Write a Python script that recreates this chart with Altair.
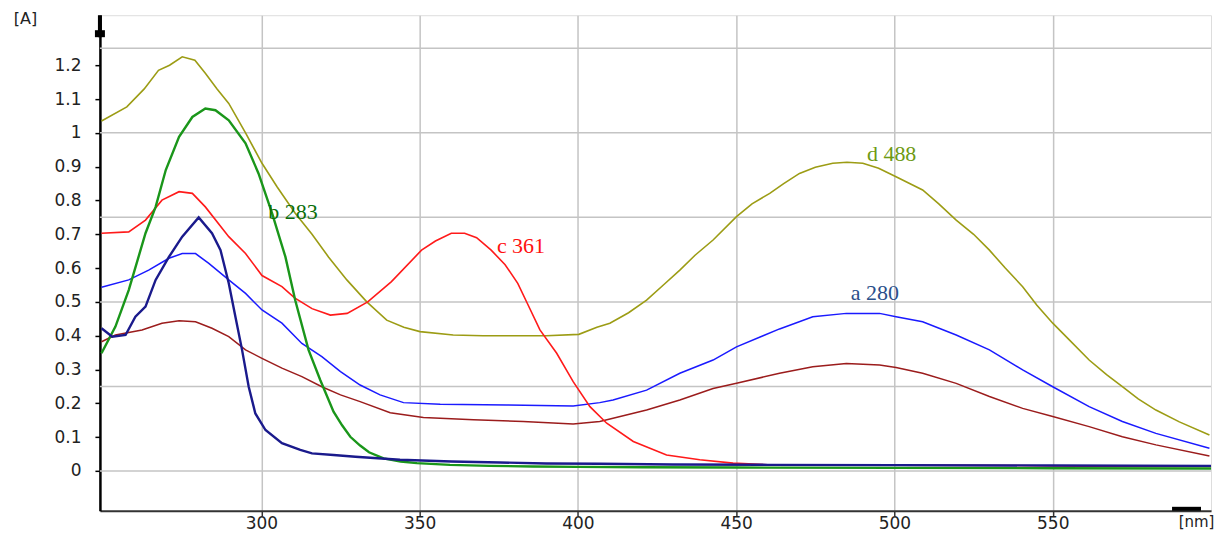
import altair as alt
import pandas as pd

# ---- data ----
wl_d = [249.5, 257.5, 263, 267.5, 271, 275, 279, 282.3, 286, 289.7, 295, 300.2, 305, 310.7, 316, 321.2, 327, 333.3,
        339.6, 345, 350.1, 360.6, 370, 380, 390, 400.3, 406, 410.1, 416, 421.7, 427, 432.2, 437, 442.7, 450.1, 455,
        460.6, 465, 470, 475, 480.5, 485, 490, 495, 500.5, 508.9, 514, 519.5, 525, 530, 535, 540.5, 545, 550, 555,
        561.5, 567, 572, 577, 582.6, 590, 599.5]
abs_d = [1.035, 1.077, 1.13, 1.185, 1.20, 1.225, 1.215, 1.176, 1.13, 1.087, 1.0, 0.910, 0.84, 0.762, 0.70, 0.633,
         0.565, 0.500, 0.446, 0.425, 0.412, 0.402, 0.400, 0.400, 0.400, 0.404, 0.425, 0.437, 0.468, 0.505, 0.55,
         0.594, 0.638, 0.683, 0.752, 0.79, 0.821, 0.85, 0.880, 0.898, 0.910, 0.913, 0.910, 0.895, 0.870, 0.831,
         0.79, 0.742, 0.70, 0.653, 0.60, 0.545, 0.49, 0.437, 0.39, 0.328, 0.285, 0.249, 0.213, 0.180, 0.145, 0.106]

wl_b = [249.5, 253.9, 258.1, 263.4, 266.6, 269.8, 274, 278.2, 282.3, 285.5, 289.7, 295, 299.1, 303.4, 307.6, 310.7,
        314.9, 318.6, 322.8, 325.5, 328.1, 331.2, 334, 338.6, 344, 349.1, 359.6, 372, 385.8, 400, 420, 450, 500,
        550, 600]
abs_b = [0.348, 0.427, 0.535, 0.703, 0.781, 0.890, 0.988, 1.047, 1.072, 1.067, 1.037, 0.969, 0.880, 0.762, 0.633,
         0.505, 0.358, 0.269, 0.175, 0.135, 0.101, 0.075, 0.055, 0.037, 0.028, 0.023, 0.018, 0.015, 0.013, 0.012,
         0.011, 0.010, 0.009, 0.008, 0.007]

wl_n = [249.5, 252.9, 257.1, 260.2, 263.4, 266.6, 270.8, 275, 280.2, 284.4, 287.1, 289.7, 291.8, 293.9, 296, 298.1,
        301.3, 306.5, 312.3, 316, 322.8, 329.7, 343.8, 360, 375.4, 390, 406.9, 430, 460, 500, 550, 600]
abs_n = [0.422, 0.397, 0.402, 0.456, 0.486, 0.565, 0.633, 0.693, 0.750, 0.703, 0.653, 0.555, 0.456, 0.358, 0.249,
         0.170, 0.121, 0.082, 0.062, 0.052, 0.047, 0.042, 0.033, 0.028, 0.025, 0.022, 0.021, 0.019, 0.018, 0.017,
         0.016, 0.015]

wl_a = [249.5, 258.1, 264.4, 270.8, 275, 279.2, 283.4, 289.7, 295, 300.2, 306.5, 312.8, 319.1, 325, 331.2, 337.5,
        344.9, 356.5, 377.5, 398.5, 406.9, 411.1, 421.7, 432.2, 442.7, 450.1, 458.5, 463.7, 474.2, 484.8, 495.3,
        500.5, 508.9, 519.5, 530, 540.5, 550, 561.5, 572, 582.6, 599.5]
abs_a = [0.543, 0.565, 0.594, 0.629, 0.643, 0.643, 0.614, 0.565, 0.525, 0.476, 0.437, 0.377, 0.338, 0.294, 0.254,
         0.225, 0.202, 0.197, 0.195, 0.192, 0.202, 0.210, 0.239, 0.289, 0.328, 0.367, 0.400, 0.420, 0.456, 0.466,
         0.466, 0.456, 0.441, 0.402, 0.358, 0.299, 0.249, 0.190, 0.146, 0.111, 0.067]

wl_m = [249.5, 253.9, 262.3, 268.6, 274, 279.2, 284.4, 289.7, 295, 300.2, 306.5, 312.8, 319.1, 325, 331.2, 340.7,
        351.2, 367, 382.7, 398.5, 406.9, 411.1, 421.7, 432.2, 442.7, 450.1, 463.7, 474.2, 484.8, 495.3, 500.5,
        508.9, 519.5, 530, 540.5, 550, 561.5, 572, 582.6, 599.5]
abs_m = [0.382, 0.402, 0.417, 0.437, 0.444, 0.441, 0.422, 0.397, 0.358, 0.333, 0.304, 0.279, 0.249, 0.225, 0.205,
         0.172, 0.158, 0.151, 0.146, 0.139, 0.146, 0.156, 0.180, 0.210, 0.244, 0.259, 0.289, 0.308, 0.318, 0.313,
         0.306, 0.289, 0.259, 0.220, 0.185, 0.161, 0.131, 0.101, 0.077, 0.044]

wl_c = [249.5, 258.1, 263.4, 268.6, 274, 278.2, 282.3, 289.7, 295, 300.2, 306.5, 310.5, 316, 321.8, 327.1, 333.6,
        341.1, 350.6, 355, 360, 364.2, 368, 372.6, 377, 381, 384, 388, 393.3, 398.5, 403.8, 409.1, 417.5, 428,
        438.5, 449, 460, 500, 538, 560, 600]
abs_c = [0.703, 0.707, 0.742, 0.801, 0.826, 0.821, 0.781, 0.693, 0.643, 0.578, 0.545, 0.512, 0.48, 0.461, 0.466,
         0.500, 0.560, 0.653, 0.68, 0.703, 0.703, 0.69, 0.653, 0.61, 0.555, 0.496, 0.417, 0.348, 0.264, 0.190,
         0.141, 0.087, 0.047, 0.033, 0.023, 0.018, 0.017, 0.016, 0.014, 0.013]

grid_y = [0, 0.25, 0.5, 0.75, 1.0, 1.25]
y_ticks = [0, 0.1, 0.2, 0.3, 0.4, 0.5, 0.6, 0.7, 0.8, 0.9, 1.0, 1.1, 1.2]
x_ticks = [300, 350, 400, 450, 500, 550]

labels = ["b 283", "c 361", "a 280", "d 488"]
label_x = [302.2, 374.4, 486.2, 491.3]
label_y = [0.766, 0.665, 0.526, 0.937]
label_colors = ["#0b6e0b", "#ff1010", "#2a4f8a", "#6e9a12"]

# ---- chart ----
xscale = alt.Scale(domain=[249, 600], nice=False, zero=False)
yscale = alt.Scale(domain=[-0.118, 1.348], nice=False, zero=False)

FONT = "DejaVu Sans"
xaxis = alt.Axis(values=x_ticks, grid=True, gridColor="#c4c4c4", gridWidth=1.5,
                 domainColor="#333333", domainWidth=2, tickColor="#333333", tickSize=5, tickWidth=1.5,
                 labelFont=FONT, labelFontSize=17, labelColor="#222222", labelPadding=0,
                 title="[nm]", titleFont=FONT, titleFontSize=15, titleFontWeight="normal", titleColor="#222222",
                 titleX=1097, titleY=11, titleAlign="center", titleBaseline="middle")
yaxis = alt.Axis(values=y_ticks, grid=False, format=".1~f",
                 domainColor="#000000", domainWidth=2.5, tickColor="#000000", tickSize=5, tickWidth=1.5,
                 labelFont=FONT, labelFontSize=17, labelColor="#222222", labelPadding=14,
                 title="[A]", titleFont=FONT, titleFontSize=16, titleFontWeight="normal", titleColor="#222222",
                 titleAngle=0, titleX=-75, titleY=3, titleAlign="center", titleBaseline="middle")

grid = alt.Chart(pd.DataFrame({"g": grid_y})).mark_rule(color="#c4c4c4", strokeWidth=1.5).encode(
    y=alt.Y("g:Q", scale=yscale, axis=yaxis)
)

series = [
    (wl_d, abs_d, "#9c9c14", 1.6),
    (wl_m, abs_m, "#9b1c1c", 1.5),
    (wl_a, abs_a, "#1a1aff", 1.5),
    (wl_c, abs_c, "#ff1a1a", 1.6),
    (wl_b, abs_b, "#1a961a", 2.4),
    (wl_n, abs_n, "#1a1a8c", 2.4),
]
layers = [grid]
for wl, ab, col, sw in series:
    df = pd.DataFrame({"nm": wl, "A": ab})
    layers.append(
        alt.Chart(df).mark_line(color=col, strokeWidth=sw).encode(
            x=alt.X("nm:Q", scale=xscale, axis=xaxis),
            y=alt.Y("A:Q", scale=yscale, axis=yaxis),
        )
    )

ann = pd.DataFrame({"t": labels, "x": label_x, "y": label_y, "c": label_colors})
layers.append(
    alt.Chart(ann).mark_text(align="left", baseline="middle", font="Liberation Serif", fontSize=22).encode(
        x=alt.X("x:Q", scale=xscale, axis=xaxis),
        y=alt.Y("y:Q", scale=yscale, axis=yaxis),
        text="t:N",
        color=alt.Color("c:N", scale=None),
    )
)

one = pd.DataFrame({"k": [0]})
# axis arrow decorations
layers.append(alt.Chart(one).mark_rule(color="#000000", strokeWidth=4).encode(
    x=alt.value(0), y=alt.value(0), y2=alt.value(22)))
layers.append(alt.Chart(one).mark_rule(color="#000000", strokeWidth=10).encode(
    x=alt.value(0), y=alt.value(15), y2=alt.value(22)))
layers.append(alt.Chart(one).mark_rule(color="#000000", strokeWidth=4).encode(
    x=alt.value(1073), x2=alt.value(1102), y=alt.value(494)))

chart = alt.layer(*layers).properties(
    width=1112, height=496,
    autosize=alt.AutoSizeParams(type="none"),
    padding={"left": 92, "top": 7, "right": 10, "bottom": 24},
).configure_view(stroke=None).configure(background="white")

chart.save("out.html", embed_options={"renderer": "svg", "actions": False})
